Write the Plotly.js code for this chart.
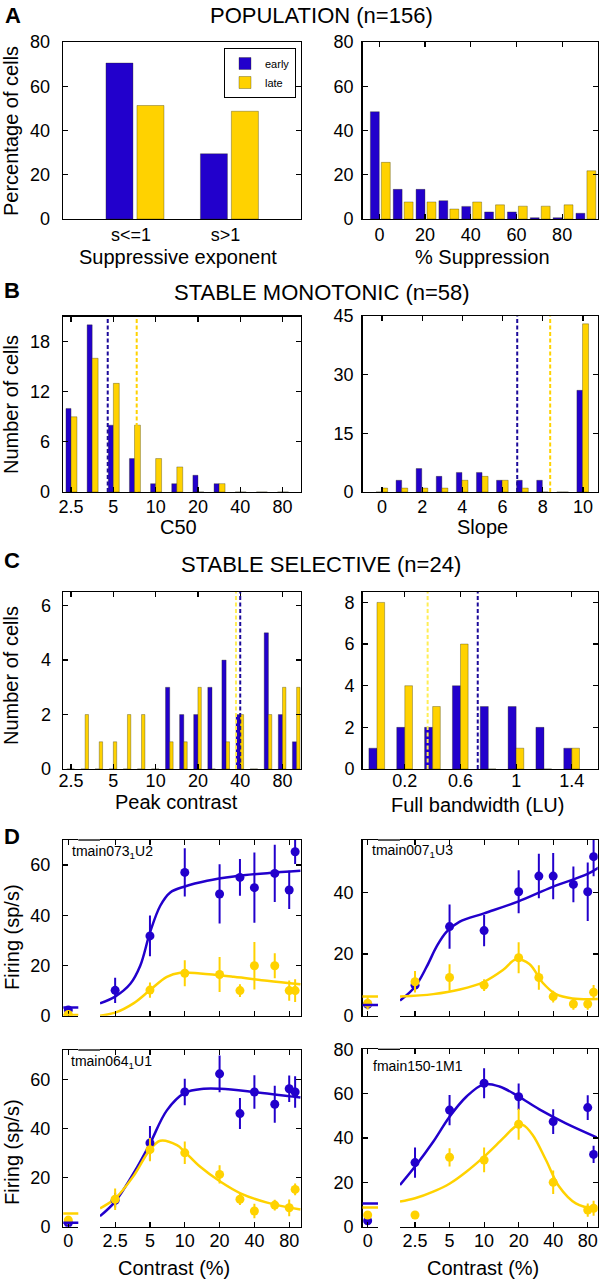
<!DOCTYPE html>
<html><head><meta charset="utf-8">
<script src="https://cdn.plot.ly/plotly-3.0.1.min.js"></script>
<style>html,body{margin:0;padding:0;background:#fff}#chart{width:602px;height:1280px}</style>
</head><body><div id="chart"></div>
<script>
// ================= DATA =================
// A left: suppressive exponent (% of cells)
const expCategories = ['s<=1', 's>1'];
const expEarly = [70.5, 29.5];
const expLate = [51.3, 48.7];
// A right: % suppression histogram
const suppBins = [0, 10, 20, 30, 40, 50, 60, 70, 80, 90];
const suppEarly = [48.5, 13.4, 13.4, 8.3, 5.7, 3.2, 3.2, 0.6, 0.6, 2.6];
const suppLate = [25.6, 7.7, 7.7, 4.5, 7.7, 6.4, 5.8, 5.8, 6.4, 21.8];
const suppTicks = [0, 20, 40, 60, 80];
// B left: C50 histogram (half-octave bins)
const c50Bins = [2.5, 3.5, 5, 7, 10, 14, 20, 28, 40, 57, 80];
const c50Early = [10, 20, 8, 4, 1, 1, 2, 1, 0, 0, 0];
const c50Late = [9, 16, 13, 8, 4, 3, 0, 1, 0, 0, 0];
const c50Ticks = [2.5, 5, 10, 20, 40, 80];
const c50MedianEarly = 4.56;
const c50MedianLate = 7.33;
// B right: slope histogram
const slopeBins = [0, 1, 2, 3, 4, 5, 6, 7, 8, 9, 10];
const slopeEarly = [0, 3, 6, 4, 5, 5, 3, 3, 3, 0, 26];
const slopeLate = [1, 1, 1, 1, 3, 4, 3, 1, 0, 0, 43];
const slopeTicks = [0, 2, 4, 6, 8, 10];
const slopeMedianEarly = 6.73;
const slopeMedianLate = 8.37;
// C left: peak contrast histogram (third-octave bins)
const peakBins = [2.5, 3.1, 4, 5, 6.3, 7.9, 10, 12.6, 15.9, 20, 25.2, 31.7, 40, 50.4, 63.5, 80, 101];
const peakEarly = [0, 0, 0, 0, 0, 0, 0, 3, 2, 2, 3, 4, 2, 0, 5, 2, 1];
const peakLate = [0, 2, 1, 1, 2, 2, 0, 1, 1, 3, 0, 1, 2, 0, 2, 3, 3];
const peakTicks = [2.5, 5, 10, 20, 40, 80];
const peakMedianEarly = 40;
const peakMedianLate = 37.3;
// C right: full bandwidth histogram
const bwBins = [0, 0.2, 0.4, 0.6, 0.8, 1.0, 1.2, 1.4];
const bwEarly = [1, 2, 2, 4, 3, 3, 2, 1];
const bwLate = [8, 4, 3, 6, 0, 1, 0, 1];
const bwTicks = [0.2, 0.6, 1, 1.4];
const bwMedianEarly = 0.724;
const bwMedianLate = 0.364;
// D: example cells, contrast response
const dContrast = [2.5, 5, 10, 20, 30, 40, 60, 80, 90];
const dContrastF = [2.5, 5, 10, 20, 40, 80, 90];
const dTicks = [2.5, 5, 10, 20, 40, 80];
// D1 tmain073_1U2
const d1Early = [10.1, 31.8, 57.1, 48.5, 55.1, 51, 56.7, 50.1, 65.3];
const d1EarlyErr = [5, 8.1, 9.6, 11.8, 7.3, 14, 11.4, 7.6, 4.9];
const d1Late = [null, 10.2, 16.9, 16.4, 10, 19.9, 19.9, 10, 10];
const d1LateErr = [0, 3, 5.2, 7, 2.5, 9.5, 5, 4, 4.5];
const d1Zero = [2.3, 0.5];       // early, late at 0 %
const d1ZeroErr = [1.5, 0.5];
const d1Base = [3.3, 0.3];       // fitted response at 0 %
const d1FitEX = [1.85, 2.5, 3.37, 4.12, 5, 6.14, 7.49, 10, 15.6, 26.5, 51.6, 100];
const d1FitEY = [4.9, 7.6, 12.6, 19.9, 33.1, 43.8, 49.1, 51.5, 53.8, 55.5, 56.8, 57.7];
const d1FitLX = [1.85, 2.5, 3.6, 5, 7, 9.15, 13.6, 26.5, 51.6, 100];
const d1FitLY = [0, 1.2, 4.9, 10.2, 15.5, 17.1, 16.8, 15.5, 13.9, 12.5];
// D2 tmain007_1U3
const d2Early = [9.9, 28.9, 27.6, 40.2, 45.3, 45.3, 42.6, 40.2, 51.6];
const d2EarlyErr = [2, 7.2, 5.1, 7, 7.2, 7.5, 5.8, 9.5, 6.4];
const d2Late = [11, 12.4, 9.9, 18.8, 12.4, 6.2, 3.8, 3.8, 7.6];
const d2LateErr = [3.5, 4.3, 1.9, 5, 4, 1.9, 1.9, 1.9, 2.4];
const d2Zero = [3.7, 4.0];
const d2ZeroErr = [1, 2];
const d2Base = [3.5, 6.2];
const d2FitEX = [1.85, 2.5, 3.16, 3.85, 4.7, 6.14, 10, 19.7, 39.6, 79, 100];
const d2FitEY = [4.9, 9.4, 15.9, 22.4, 27.2, 30.5, 33.2, 37, 41.8, 45.9, 48.1];
const d2FitLX = [1.85, 3.6, 6.14, 10, 14.6, 19, 24.8, 32.4, 42.2, 58.9, 100];
const d2FitLY = [6.2, 7.0, 8.5, 11, 14.8, 18.3, 16.8, 10.7, 7.0, 5.6, 5.4];
// D3 tmain064_1U1
const d3Early = [10.8, 34.1, 54.9, 62.3, 46.1, 54.9, 49.9, 56.2, 54.9];
const d3EarlyErr = [3, 6.9, 5.4, 7.5, 6.3, 6.8, 7.5, 5.4, 6.4];
const d3Late = [11.2, 31.4, 30.1, 21.3, 11.2, 6.4, 8.8, 7.7, 15.2];
const d3LateErr = [4.4, 4.7, 4.6, 3.7, 2.4, 3, 2.2, 3.4, 2.4];
const d3Zero = [1.5, 2.7];
const d3ZeroErr = [1, 1.5];
const d3Base = [1.6, 5.4];
const d3FitEX = [1.85, 2.5, 3.6, 4.97, 7.0, 10, 14.6, 20.4, 39.5, 100];
const d3FitEY = [4.3, 10.2, 21.7, 33.6, 47.4, 54.5, 56.2, 56.2, 54.9, 52.6];
const d3FitLX = [1.85, 2.5, 3.6, 4.97, 6.14, 8.56, 10, 13.6, 20.4, 30.3, 51.6, 100];
const d3FitLY = [7.5, 11.5, 20.6, 31.2, 35, 33.2, 30.5, 24.4, 18.3, 13.6, 9.8, 7.0];
// D4 fmain150-1M1
const d4Early = [28.9, 52.6, 64.7, 58.6, 47.4, 53.7, 32.6];
const d4EarlyErr = [6.8, 6.8, 6.8, 6, 5.6, 5.6, 3.9];
const d4Late = [5.3, 31.3, 30.1, 46.2, 20, 7.5, 8.3];
const d4LateErr = [1.5, 4.1, 5.6, 7, 5.3, 3, 3.4];
const d4Zero = [2.7, 5.3];
const d4ZeroErr = [1, 1.5];
const d4Base = [10.5, 8.7];
const d4FitEX = [1.85, 2.5, 3.6, 5, 7.0, 9.9, 13.6, 19.7, 30.3, 51.6, 95.7];
const d4FitEY = [18.8, 27.1, 38.3, 49.6, 58.6, 64.2, 63.2, 58.9, 52.9, 46.6, 40.3];
const d4FitLX = [1.85, 2.5, 3.6, 5.03, 7.0, 10, 14.6, 19.0, 21.7, 26.5, 34.6, 45.2, 63, 95.7];
const d4FitLY = [11.3, 12.8, 15.8, 19.5, 24.8, 31.6, 39.8, 45.4, 45.9, 41.4, 30.1, 18, 10.5, 7.8];

// ================= STYLE / LAYOUT HELPERS =================
const W = 602, H = 1280;
const BLUE = '#2200cc', YEL = '#ffd200', BLUE_D = '#1c0a9a', YEL_D = '#ffd200', YEL_L = '#ffee55';
const FONT = 'Liberation Sans, Arial, sans-serif';
const BAR_LINE = {width: 0.6, color: 'rgba(40,40,0,0.55)'};
const fx = p => p / W;
const fy = p => 1 - p / H;
const xd = (a, b) => [a / W, b / W];
const yd = (top, bot) => [1 - bot / H, 1 - top / H];

function ax(extra) {
  return Object.assign({
    showline: true, linecolor: '#000', linewidth: 1.3,
    ticks: 'inside', ticklen: 5, tickwidth: 1.2, tickcolor: '#000',
    mirror: 'ticks', showgrid: false, zeroline: false,
    tickfont: {size: 18, color: '#000', family: FONT}, fixedrange: true
  }, extra);
}

const traces = [];
const shapes = [];
const annotations = [];
const layout = {
  width: W, height: H, margin: {l: 0, r: 0, t: 0, b: 0},
  paper_bgcolor: '#fff', plot_bgcolor: '#fff',
  font: {family: FONT, color: '#000'},
  showlegend: true,
  legend: {x: fx(296), xanchor: 'right', y: fy(48), yanchor: 'top', bgcolor: '#fff',
           bordercolor: '#000', borderwidth: 1, font: {size: 11}, itemwidth: 30,
           tracegroupgap: 0, itemclick: false, itemdoubleclick: false},
  bargap: 0
};

function barPair(xa, ya, x, early, late, oe, we, ol, wl, legend) {
  traces.push({type: 'bar', x: x, y: early, name: 'early', xaxis: xa, yaxis: ya,
    offset: oe, width: we, marker: {color: BLUE, line: BAR_LINE}, showlegend: !!legend, hoverinfo: 'skip'});
  traces.push({type: 'bar', x: x, y: late, name: 'late', xaxis: xa, yaxis: ya,
    offset: ol, width: wl, marker: {color: YEL, line: BAR_LINE}, showlegend: !!legend, hoverinfo: 'skip'});
}
function vline(xa, ya, xv, color) {
  shapes.push({type: 'line', xref: xa, yref: ya + ' domain', x0: xv, x1: xv, y0: 0, y1: 1,
    line: {color: color, width: 2, dash: '4px,2.5px'}});
}
function note(text, x, y, size, opts) {
  annotations.push(Object.assign({text: text, x: fx(x), y: fy(y), xref: 'paper', yref: 'paper',
    showarrow: false, xanchor: 'center', yanchor: 'middle', font: {size: size, color: '#000', family: FONT}}, opts || {}));
}

// ---------- A left ----------
barPair('x', 'y', expCategories, expEarly, expLate, -0.265, 0.286, 0.063, 0.286, true);
layout.xaxis = ax({domain: xd(63, 301), anchor: 'y', type: 'category', range: [-0.72, 1.8],
  ticks: '', tickvals: expCategories, ticklabelstandoff: -1});
layout.yaxis = ax({domain: yd(42, 219), anchor: 'x', range: [0, 80], tick0: 0, dtick: 20, ticklabelstandoff: 8});

// ---------- A right ----------
barPair('x2', 'y2', suppBins, suppEarly, suppLate, -3.95, 3.9, 0.85, 3.9, false);
layout.xaxis2 = ax({domain: xd(362.5, 598), anchor: 'y2', range: [-7.4, 95.7], tickvals: suppTicks, ticklabelstandoff: -1});
layout.yaxis2 = ax({domain: yd(42, 219), anchor: 'x2', range: [0, 80], tick0: 0, dtick: 20, ticklabelstandoff: 4});

// ---------- B left ----------
barPair('x3', 'y3', c50Bins, c50Early, c50Late, -0.24, 0.24, 0, 0.28, false);
layout.xaxis3 = ax({domain: xd(63, 301), anchor: 'y3', type: 'category', range: [-0.38, 10.87],
  tickvals: c50Ticks, ticktext: c50Ticks.map(String), ticklabelstandoff: -2});
layout.yaxis3 = ax({domain: yd(316.5, 492), anchor: 'x3', range: [0, 21], tick0: 0, dtick: 6, ticklabelstandoff: 8});
// medians: category index of a half-octave grid starting at 2.5
vline('x3', 'y3', 2 * Math.log2(c50MedianEarly / c50Bins[0]), BLUE_D);
vline('x3', 'y3', 2 * Math.log2(c50MedianLate / c50Bins[0]), YEL_D);

// ---------- B right ----------
barPair('x4', 'y4', slopeBins, slopeEarly, slopeLate, -0.3, 0.28, -0.02, 0.3, false);
layout.xaxis4 = ax({domain: xd(362.5, 598), anchor: 'y4', range: [-0.97, 10.75], tickvals: slopeTicks, ticklabelstandoff: -2});
layout.yaxis4 = ax({domain: yd(316, 492), anchor: 'x4', range: [0, 45], tick0: 0, dtick: 15, ticklabelstandoff: 4});
vline('x4', 'y4', slopeMedianEarly, BLUE_D);
vline('x4', 'y4', slopeMedianLate, YEL_D);

// ---------- C left ----------
barPair('x5', 'y5', peakBins, peakEarly, peakLate, -0.3, 0.3, 0, 0.24, false);
layout.xaxis5 = ax({domain: xd(63, 301), anchor: 'y5', type: 'category', range: [-0.57, 16.31],
  tickvals: peakTicks, ticktext: peakTicks.map(String), ticklabelstandoff: -5});
layout.yaxis5 = ax({domain: yd(592, 769), anchor: 'x5', range: [0, 6.5], tick0: 0, dtick: 2, ticklabelstandoff: 7});
vline('x5', 'y5', 3 * Math.log2(peakMedianLate / peakBins[0]), YEL_L);
vline('x5', 'y5', 3 * Math.log2(peakMedianEarly / peakBins[0]), BLUE_D);

// ---------- C right ----------
barPair('x6', 'y6', bwBins, bwEarly, bwLate, -0.058, 0.058, 0, 0.055, false);
layout.xaxis6 = ax({domain: xd(362.5, 598), anchor: 'y6', range: [-0.104, 1.588], tickvals: bwTicks, ticklabelstandoff: -5});
layout.yaxis6 = ax({domain: yd(592, 769), anchor: 'x6', range: [0, 8.5], tick0: 0, dtick: 2, ticklabelstandoff: 3});
vline('x6', 'y6', bwMedianLate, YEL_L);
vline('x6', 'y6', bwMedianEarly, BLUE_D);

// ---------- D panels (broken contrast axis) ----------
function dPanel(p) {
  const n = p.n; // axis numbers: zero x = n, main x = n+1, left y = n, right y = n+1
  const xz = 'x' + n, xm = 'x' + (n + 1), yl = 'y' + n, yr = 'y' + (n + 1);
  const errE = {type: 'data', array: p.earlyErr, visible: true, thickness: 2, width: 0, color: BLUE};
  const errL = {type: 'data', array: p.lateErr, visible: true, thickness: 2, width: 0, color: YEL};
  traces.push({type: 'scatter', mode: 'lines', x: p.fitEX, y: p.fitEY, xaxis: xm, yaxis: yl,
    line: {color: BLUE, width: 2.5, shape: 'spline', smoothing: 1}, showlegend: false, hoverinfo: 'skip'});
  traces.push({type: 'scatter', mode: 'lines', x: p.fitLX, y: p.fitLY, xaxis: xm, yaxis: yl,
    line: {color: YEL, width: 2.5, shape: 'spline', smoothing: 1}, showlegend: false, hoverinfo: 'skip'});
  traces.push({type: 'scatter', mode: 'markers', x: p.contrast, y: p.early, error_y: errE, xaxis: xm, yaxis: yl,
    marker: {color: BLUE, size: 9}, showlegend: false, hoverinfo: 'skip'});
  traces.push({type: 'scatter', mode: 'markers', x: p.contrast, y: p.late, error_y: errL, xaxis: xm, yaxis: yl,
    marker: {color: YEL, size: 9}, showlegend: false, hoverinfo: 'skip'});
  traces.push({type: 'scatter', mode: 'markers', x: [0], y: [p.zero[0]], xaxis: xz, yaxis: yl,
    error_y: {type: 'data', array: [p.zeroErr[0]], visible: true, thickness: 2, width: 0, color: BLUE},
    marker: {color: BLUE, size: 9}, showlegend: false, hoverinfo: 'skip'});
  traces.push({type: 'scatter', mode: 'markers', x: [0], y: [p.zero[1]], xaxis: xz, yaxis: yl,
    error_y: {type: 'data', array: [p.zeroErr[1]], visible: true, thickness: 2, width: 0, color: YEL},
    marker: {color: YEL, size: 9}, showlegend: false, hoverinfo: 'skip'});
  traces.push({type: 'scatter', x: [], y: [], xaxis: xm, yaxis: yr, showlegend: false, hoverinfo: 'skip'});
  // fitted response at 0 % contrast, across the zero segment
  shapes.push({type: 'line', xref: xz + ' domain', yref: yl, x0: 0, x1: 1, y0: p.base[0], y1: p.base[0], line: {color: BLUE, width: 2.5}});
  shapes.push({type: 'line', xref: xz + ' domain', yref: yl, x0: 0, x1: 1, y0: p.base[1], y1: p.base[1], line: {color: YEL, width: 2.5}});
  // top border across the axis break
  shapes.push({type: 'line', xref: 'paper', yref: yl + ' domain', x0: fx(p.zx[1]), x1: fx(p.mx[0]), y0: 1, y1: 1, line: {color: '#000', width: 1.3}});
  layout['xaxis' + n] = ax({domain: xd(p.zx[0], p.zx[1]), anchor: yl, range: [-1, 2], tickvals: [0], ticktext: ['0'],
    showticklabels: p.labels, ticklabelstandoff: -3});
  layout['xaxis' + (n + 1)] = ax({domain: xd(p.mx[0], p.mx[1]), anchor: yl, type: 'log', range: p.logRange,
    tickvals: dTicks, ticktext: dTicks.map(String), showticklabels: p.labels, ticklabelstandoff: -3});
  layout['yaxis' + n] = ax({domain: yd(p.y[0], p.y[1]), anchor: xz, range: [0, p.ymax], tick0: 0, dtick: 20,
    mirror: false, ticklabelstandoff: p.ystand});
  layout['yaxis' + (n + 1)] = ax({overlaying: yl, anchor: xm, side: 'right', range: [0, p.ymax], tick0: 0, dtick: 20,
    mirror: false, showticklabels: false});
}
dPanel({n: 7, zx: [63.3, 78.3], mx: [100, 301], y: [840, 1015.7], ymax: 70, logRange: [0.267, 2.005], labels: false, ystand: 8,
  contrast: dContrast, early: d1Early, earlyErr: d1EarlyErr, late: d1Late, lateErr: d1LateErr,
  zero: d1Zero, zeroErr: d1ZeroErr, base: d1Base, fitEX: d1FitEX, fitEY: d1FitEY, fitLX: d1FitLX, fitLY: d1FitLY});
dPanel({n: 9, zx: [362.5, 378], mx: [400, 597.7], y: [840, 1015.7], ymax: 57, logRange: [0.267, 1.99], labels: false, ystand: 4,
  contrast: dContrast, early: d2Early, earlyErr: d2EarlyErr, late: d2Late, lateErr: d2LateErr,
  zero: d2Zero, zeroErr: d2ZeroErr, base: d2Base, fitEX: d2FitEX, fitEY: d2FitEY, fitLX: d2FitLX, fitLY: d2FitLY});
dPanel({n: 11, zx: [63.3, 78.3], mx: [100, 301], y: [1050, 1226.7], ymax: 72, logRange: [0.267, 2.005], labels: true, ystand: 8,
  contrast: dContrast, early: d3Early, earlyErr: d3EarlyErr, late: d3Late, lateErr: d3LateErr,
  zero: d3Zero, zeroErr: d3ZeroErr, base: d3Base, fitEX: d3FitEX, fitEY: d3FitEY, fitLX: d3FitLX, fitLY: d3FitLY});
dPanel({n: 13, zx: [362.5, 378], mx: [400, 597.7], y: [1049.3, 1226.7], ymax: 80, logRange: [0.267, 1.99], labels: true, ystand: 4,
  contrast: dContrastF, early: d4Early, earlyErr: d4EarlyErr, late: d4Late, lateErr: d4LateErr,
  zero: d4Zero, zeroErr: d4ZeroErr, base: d4Base, fitEX: d4FitEX, fitEY: d4FitEY, fitLX: d4FitLX, fitLY: d4FitLY});

// ---------- text ----------
note('<b>A</b>', 13, 16, 22);
note('POPULATION (n=156)', 322, 15, 22);
note('Percentage of cells', 11, 131, 20, {textangle: -90});
note('Suppressive exponent', 178, 257, 20);
note('% Suppression', 482, 257, 20);
note('<b>B</b>', 12, 290, 22);
note('STABLE MONOTONIC (n=58)', 322, 292, 22);
note('Number of cells', 11, 405, 20, {textangle: -90});
note('C50', 178, 527, 20);
note('Slope', 482, 527, 20);
note('<b>C</b>', 12, 560, 22);
note('STABLE SELECTIVE (n=24)', 321, 564, 22);
note('Number of cells', 11, 676, 20, {textangle: -90});
note('Peak contrast', 176, 802, 20);
note('Full bandwidth (LU)', 477, 805, 20);
note('<b>D</b>', 12, 836, 22);
note('Firing (sp/s)', 12, 937, 20, {textangle: -90});
note('Firing (sp/s)', 12, 1152, 20, {textangle: -90});
note('Contrast (%)', 174, 1268, 20);
note('Contrast (%)', 483, 1268, 20);
note('tmain073<sub>1</sub>U2', 70, 852, 14, {xanchor: 'left'});
note('tmain007<sub>1</sub>U3', 370, 851, 14, {xanchor: 'left'});
note('tmain064<sub>1</sub>U1', 69, 1062, 14, {xanchor: 'left'});
note('fmain150-1M1', 371, 1066, 14, {xanchor: 'left'});

layout.shapes = shapes;
layout.annotations = annotations;
Plotly.newPlot('chart', traces, layout, {staticPlot: true, displayModeBar: false});
</script></body></html>
